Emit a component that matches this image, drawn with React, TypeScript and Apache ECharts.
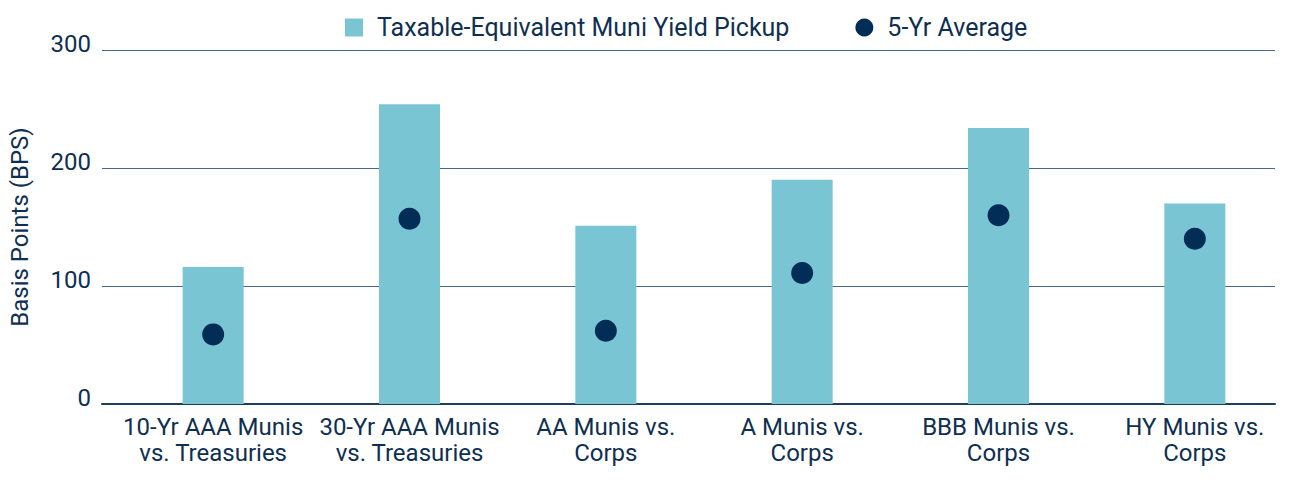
import React, { useEffect, useRef } from "react";
import * as echarts from "echarts";

const categories = [
  "10-Yr AAA Munis\nvs. Treasuries",
  "30-Yr AAA Munis\nvs. Treasuries",
  "AA Munis vs.\nCorps",
  "A Munis vs.\nCorps",
  "BBB Munis vs.\nCorps",
  "HY Munis vs.\nCorps",
];
const yieldPickup = [116, 254, 151, 190, 234, 170];
const fiveYrAverage = [59, 157, 62, 111, 160, 140];
const yTicks = [0, 100, 200, 300];

const NAVY = "#0f2f52";
const TEAL = "#7ac5d4";
const FONT = "Roboto";

const App = () => {
  const chartRef = useRef<HTMLDivElement>(null);

  useEffect(() => {
    if (!chartRef.current) return;
    const chart = echarts.init(chartRef.current, null, { renderer: "svg" });

    chart.setOption({
      animation: false,
      textStyle: { fontFamily: FONT, color: NAVY },
      legend: {
        left: 340,
        top: 10,
        itemWidth: 18,
        itemHeight: 18,
        itemGap: 66,
        textStyle: { fontSize: 25, color: NAVY, fontFamily: FONT, padding: [0, 0, 0, 9] },
        data: [
          { name: "Taxable-Equivalent Muni Yield Pickup", icon: "rect" },
          { name: "5-Yr Average", icon: "circle", itemStyle: { color: "#022d56", opacity: 1 } },
        ],
      },
      grid: [
        { left: 101, right: 25, top: 50, bottom: 77 },
        { left: 115, right: 7, top: 50, bottom: 77 },
      ],
      xAxis: [
        {
          type: "category",
          gridIndex: 0,
          data: categories,
          axisLine: { show: true, lineStyle: { color: "#1d3d60", width: 2 } },
          axisTick: { show: false },
          axisLabel: { show: false },
        },
        {
          type: "category",
          gridIndex: 1,
          data: categories,
          axisLine: { show: false },
          axisTick: { show: false },
          axisLabel: {
            margin: 10,
            fontSize: 24,
            lineHeight: 26,
            color: NAVY,
            fontFamily: FONT,
            interval: 0,
          },
        },
      ],
      yAxis: [
        {
          type: "value",
          gridIndex: 0,
          min: yTicks[0],
          max: yTicks[yTicks.length - 1],
          interval: 100,
          name: "Basis Points (BPS)",
          nameLocation: "middle",
          nameGap: 70,
          nameTextStyle: { fontSize: 24, color: NAVY, fontFamily: FONT },
          axisLine: { show: false },
          axisTick: { show: false },
          axisLabel: {
            margin: 11,
            fontSize: 24,
            color: NAVY,
            fontFamily: FONT,
            verticalAlign: "bottom",
            lineHeight: 12,
          },
          splitLine: { lineStyle: { color: "#48698a", width: 1 } },
        },
        {
          type: "value",
          gridIndex: 1,
          min: yTicks[0],
          max: yTicks[yTicks.length - 1],
          interval: 100,
          show: false,
          splitLine: { show: false },
        },
      ],
      series: [
        {
          name: "Taxable-Equivalent Muni Yield Pickup",
          type: "bar",
          xAxisIndex: 1,
          yAxisIndex: 1,
          barWidth: 61,
          itemStyle: { color: TEAL },
          data: yieldPickup,
        },
        {
          name: "5-Yr Average",
          type: "scatter",
          xAxisIndex: 1,
          yAxisIndex: 1,
          symbol: "circle",
          symbolSize: 22,
          itemStyle: { color: "#022d56", opacity: 1 },
          data: fiveYrAverage,
          z: 5,
        },
      ],
    });

    return () => {
      chart.dispose();
    };
  }, []);

  return <div ref={chartRef} style={{ width: "1300px", height: "481px", margin: "-8px" }} />;
};

export default App;
